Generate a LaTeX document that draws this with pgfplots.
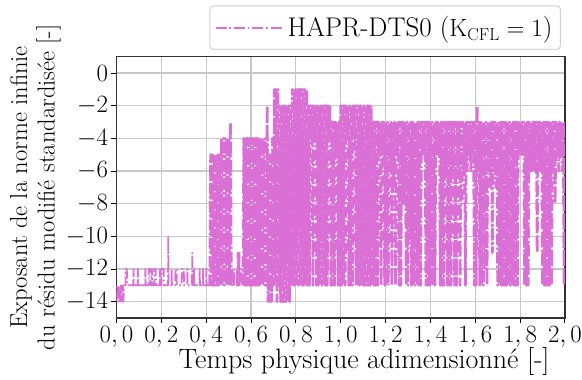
\documentclass[border=0pt]{standalone}
\usepackage{pgfplots}
\pgfplotsset{compat=1.18}
\definecolor{orchid}{RGB}{218,112,214}
\definecolor{gridc}{RGB}{200,200,200}
\definecolor{legc}{RGB}{210,210,210}
\begin{document}
\begin{tikzpicture}
\begin{axis}[
  width=448.5pt, height=261.3pt, scale only axis,
  xmin=0, xmax=2, ymin=-15, ymax=1,
  xtick={0,0.2,0.4,0.6,0.8,1,1.2,1.4,1.6,1.8,2},
  xticklabels={{$0,0$},{$0,2$},{$0,4$},{$0,6$},{$0,8$},{$1,0$},{$1,2$},{$1,4$},{$1,6$},{$1,8$},{$2,0$}},
  ytick={0,-2,-4,-6,-8,-10,-12,-14},
  tick align=outside, xtick pos=bottom, ytick pos=left,
  major tick length=5pt,
  every tick/.style={black, line width=1pt},
  axis line style={black!80, line width=1.1pt},
  grid=major, grid style={gridc, line width=1.1pt},
  tick label style={font=\fontsize{23}{27}\selectfont},
  xlabel={Temps physique adimensionné [-]},
  ylabel={Exposant de la norme infinie\\du résidu modifié standardisée [-]},
  xlabel style={font=\fontsize{28}{32}\selectfont, at={(axis description cs:0.552,-0.167)}, anchor=center},
  ylabel style={font=\fontsize{24.5}{27.5}\selectfont, at={(axis description cs:-0.181,0.5)}, anchor=center, align=center},
  legend style={at={(1,1)}, anchor=south east, xshift=-4pt, yshift=6.7pt,
    draw=legc, line width=1pt, rounded corners=4pt, fill=white,
    inner xsep=5pt, inner ysep=8pt,
    font=\fontsize{27}{31}\selectfont,
    nodes={inner xsep=3pt, inner ysep=3pt}},
  legend image code/.code={\draw[#1] (0pt,0pt) -- (52pt,0pt); \path (0pt,0pt) -- (68pt,0pt);},
]
\addplot[orchid, line width=1.8pt, line join=round, line cap=butt,
  dash pattern=on 11pt off 2.8pt on 1.7pt off 2.8pt] table {
x y
0.000 -14
0.004 -13
0.008 -14
0.012 -13
0.016 -14
0.020 -13
0.024 -14
0.028 -13
0.031 -14
0.033 -13
0.040 -13
0.041 -12
0.046 -12
0.047 -13
0.075 -13
0.076 -12
0.077 -13
0.095 -13
0.096 -12
0.097 -13
0.128 -13
0.129 -12
0.130 -13
0.143 -13
0.144 -12
0.150 -12
0.151 -13
0.157 -13
0.158 -12
0.159 -13
0.168 -13
0.169 -12
0.175 -12
0.176 -13
0.193 -13
0.194 -12
0.195 -13
0.200 -13
0.201 -12
0.210 -12
0.211 -13
0.230 -13
0.231 -10
0.232 -13
0.245 -13
0.246 -12
0.247 -13
0.262 -13
0.263 -12
0.268 -12
0.269 -13
0.290 -13
0.291 -12
0.300 -12
0.301 -13
0.315 -13
0.316 -12
0.317 -13
0.337 -13
0.338 -11
0.339 -13
0.345 -13
0.346 -12
0.347 -13
0.370 -13
0.371 -12
0.372 -13
0.385 -13
0.386 -12
0.387 -13
0.400 -13
0.401 -12
0.402 -13
0.416 -13
};
\addlegendentry{HAPR-DTS0 ($\mathrm{K_{CFL}} = 1$)}
\addplot[orchid, line width=2.8pt, line join=round, line cap=butt, forget plot,
  dash pattern=on 11pt off 2.8pt on 1.7pt off 2.8pt] table {
x y
0.416 -13
0.420 -5
0.424 -13
0.428 -5
0.432 -13
0.436 -5
0.440 -13
0.444 -5
0.448 -13
0.452 -5
0.456 -13
0.460 -5
0.464 -13
0.468 -4
0.472 -13
0.476 -4
0.480 -13
0.484 -4
0.488 -13
0.492 -4
0.496 -13
0.500 -4
0.504 -13
0.508 -3
0.512 -13
};
\addplot[orchid, line width=1.8pt, line join=round, line cap=butt, forget plot,
  dash pattern=on 11pt off 2.8pt on 1.7pt off 2.8pt] table {
x y
0.512 -13
0.516 -12
0.517 -13
0.522 -13
0.523 -12
0.524 -13
0.535 -13
0.536 -12
0.537 -13
0.539 -13
0.540 -11
0.541 -13
0.547 -13
0.548 -11
0.549 -13
0.557 -13
0.558 -12
0.559 -13
0.564 -13
};
\addplot[orchid, line width=2.8pt, line join=round, line cap=butt, forget plot,
  dash pattern=on 11pt off 2.8pt on 1.7pt off 2.8pt] table {
x y
0.564 -13
0.568 -4
0.572 -13
0.576 -4
0.580 -13
0.584 -4
0.588 -13
0.592 -4
0.596 -13
0.600 -4
0.604 -13
0.608 -4
0.612 -13
0.616 -4
0.620 -13
0.624 -4
0.628 -13
0.632 -4
0.636 -13
0.640 -4
0.644 -13
0.648 -4
0.652 -13
0.656 -4
0.660 -13
0.664 -4
0.668 -13
0.672 -2
0.676 -14
0.680 -5
0.684 -14
0.688 -5
0.692 -14
0.696 -4
0.700 -13
0.704 -1
0.708 -13
0.712 -1
0.716 -14
0.720 -1
0.724 -13
0.728 -2
0.732 -14
0.736 -2
0.740 -14
0.744 -2
0.748 -14
0.752 -2
0.756 -14
0.760 -2
0.764 -14
0.768 -2
0.772 -14
0.776 -2
0.780 -13
0.784 -1
0.788 -13
0.792 -1
0.796 -13
0.800 -1
0.804 -13
0.808 -1
0.812 -13
0.816 -1
0.820 -13
0.824 -1
0.828 -13
0.832 -1
0.836 -13
0.840 -1
0.844 -13
0.848 -1
0.852 -13
0.856 -2
0.860 -13
0.864 -2
0.868 -4
0.872 -2
0.876 -13
0.880 -2
0.884 -4
0.888 -2
0.892 -13
0.896 -2
0.900 -13
0.904 -2
0.908 -13
0.912 -2
0.916 -13
0.920 -2
0.924 -13
0.928 -2
0.932 -13
0.936 -2
0.940 -13
0.944 -2
0.948 -4
0.952 -2
0.956 -13
0.960 -3
0.964 -13
0.968 -3
0.972 -13
0.976 -3
0.980 -5
0.984 -3
0.988 -13
0.992 -3
0.996 -13
1.000 -2
1.004 -13
1.008 -2
1.012 -13
1.016 -2
1.020 -13
1.024 -2
1.028 -4
1.032 -2
1.036 -13
1.040 -2
1.044 -13
1.048 -2
1.052 -13
1.056 -2
1.060 -4
1.064 -2
1.068 -13
1.072 -2
1.076 -13
1.080 -2
1.084 -13
1.088 -2
1.092 -13
1.096 -2
1.100 -13
1.104 -2
1.108 -13
1.112 -2
1.116 -13
1.120 -2
1.124 -13
1.128 -2
1.132 -13
1.136 -2
1.140 -13
1.144 -3
1.148 -13
1.152 -3
1.156 -13
1.160 -3
1.164 -13
1.168 -3
1.172 -5
1.176 -3
1.180 -13
1.184 -3
1.188 -5
1.192 -3
1.196 -13
1.200 -3
1.204 -13
1.208 -3
1.212 -13
1.216 -3
1.220 -6
1.224 -3
1.228 -13
1.232 -3
1.236 -7
1.240 -3
1.244 -13
1.248 -3
1.252 -5
1.256 -3
1.260 -13
1.264 -3
1.268 -13
1.272 -3
1.276 -8
1.280 -3
1.284 -8
1.288 -3
1.292 -13
1.296 -3
1.300 -13
1.304 -3
1.308 -10
1.312 -3
1.316 -13
1.320 -3
1.324 -13
1.328 -3
1.332 -13
1.336 -3
1.340 -13
1.344 -3
1.348 -13
1.352 -3
1.356 -13
1.360 -3
1.364 -5
1.368 -3
1.372 -5
1.376 -3
1.380 -13
1.384 -3
1.388 -13
1.392 -3
1.396 -13
1.400 -3
1.404 -13
1.408 -3
1.412 -13
1.416 -3
1.420 -13
1.424 -3
1.428 -5
1.432 -3
1.436 -5
1.440 -3
1.444 -13
1.448 -3
1.452 -13
1.456 -3
1.460 -13
1.464 -3
1.468 -6
1.472 -3
1.476 -13
1.480 -3
1.484 -13
1.488 -3
1.492 -13
1.496 -3
1.500 -6
1.504 -3
1.508 -13
1.512 -3
1.516 -13
1.520 -3
1.524 -6
1.528 -3
1.532 -13
1.536 -3
1.540 -8
1.544 -3
1.548 -6
1.552 -3
1.556 -13
1.560 -3
1.564 -6
1.568 -3
1.572 -5
1.576 -3
1.580 -6
1.584 -3
1.588 -5
1.592 -3
1.596 -13
1.600 -3
1.604 -13
1.608 -2
1.612 -6
1.616 -3
1.620 -13
1.624 -3
1.628 -13
1.632 -3
1.636 -13
1.640 -3
1.644 -12
1.648 -3
1.652 -13
1.656 -3
1.660 -6
1.664 -3
1.668 -7
1.672 -3
1.676 -11
1.680 -3
1.684 -6
1.688 -3
1.692 -7
1.696 -3
1.700 -13
1.704 -3
1.708 -13
1.712 -3
1.716 -13
1.720 -3
1.724 -13
1.728 -3
1.732 -13
1.736 -3
1.740 -13
1.744 -3
1.748 -13
1.752 -3
1.756 -13
1.760 -3
1.764 -13
1.768 -3
1.772 -13
1.776 -3
1.780 -13
1.784 -3
1.788 -13
1.792 -3
1.796 -5
1.800 -3
1.804 -5
1.808 -3
1.812 -5
1.816 -3
1.820 -13
1.824 -3
1.828 -13
1.832 -3
1.836 -13
1.840 -3
1.844 -6
1.848 -3
1.852 -6
1.856 -3
1.860 -6
1.864 -3
1.868 -6
1.872 -3
1.876 -11
1.880 -3
1.884 -6
1.888 -3
1.892 -6
1.896 -3
1.900 -13
1.904 -3
1.908 -13
1.912 -3
1.916 -13
1.920 -3
1.924 -13
1.928 -3
1.932 -13
1.936 -3
1.940 -13
1.944 -3
1.948 -6
1.952 -3
1.956 -8
1.960 -3
1.964 -5
1.968 -3
1.972 -6
1.976 -3
1.980 -5
1.984 -3
1.988 -6
1.992 -3
1.996 -13
2.000 -3
};
\end{axis}
\pgfresetboundingbox
\path[use as bounding box] (current axis.south west) ++(-116.5pt,-62pt) rectangle ++(582pt,380pt);
\end{tikzpicture}
\end{document}
